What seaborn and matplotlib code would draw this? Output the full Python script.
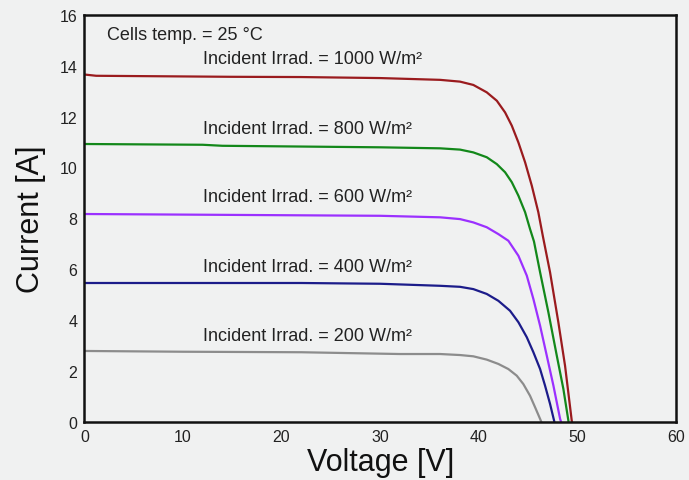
import numpy as np
import pandas as pd
import matplotlib
matplotlib.use("Agg")
import matplotlib.pyplot as plt
import seaborn as sns
from matplotlib.ticker import MultipleLocator

# ---- data ----
v_1000 = [0, 1.2, 14.8, 22, 30.0, 36.08, 38.10, 39.45, 40.81, 41.83, 42.67, 43.35, 44.02, 44.70,
          45.38, 46.04, 46.5, 47.23, 48.07, 48.75, 49.43, 49.45]
i_1000 = [13.65, 13.6, 13.56, 13.55, 13.51, 13.44, 13.37, 13.24, 12.95, 12.62, 12.16, 11.64, 10.98, 10.20,
          9.28, 8.24, 7.3, 5.88, 3.92, 2.21, 0.05, 0.0]

v_800 = [0, 12, 14, 30.0, 36.08, 38.10, 39.45, 40.81, 41.83, 42.67, 43.35, 44.02, 44.70, 45.20,
         45.6, 46.22, 47.06, 47.91, 48.58, 49.09, 49.1]
i_800 = [10.92, 10.89, 10.85, 10.79, 10.75, 10.70, 10.59, 10.40, 10.13, 9.81, 9.42, 8.89, 8.24, 7.58,
         7.09, 5.88, 4.31, 2.61, 1.30, 0.05, 0.0]

v_600 = [0, 30.0, 36.08, 38.10, 39.45, 40.81, 41.99, 43.0, 44.02, 44.87, 45.54, 46.22, 46.90,
         47.57, 48.25, 48.35]
i_600 = [8.17, 8.10, 8.04, 7.97, 7.84, 7.65, 7.38, 7.12, 6.53, 5.75, 4.83, 3.78, 2.60,
         1.43, 0.12, 0.0]

v_400 = [0, 22, 30, 36.08, 38.10, 39.45, 40.81, 41.99, 43.17, 44.02, 44.87, 45.54, 46.22, 46.72,
         47.23, 47.64, 47.67]
i_400 = [5.46, 5.46, 5.43, 5.35, 5.31, 5.22, 5.03, 4.76, 4.37, 3.92, 3.33, 2.74, 2.08, 1.43,
         0.71, 0.05, 0.0]

v_200 = [0, 10, 22, 32, 36.08, 38.10, 39.45, 40.81, 41.99, 43.00, 43.85, 44.52, 45.20, 45.71,
         46.22, 46.35]
i_200 = [2.79, 2.76, 2.74, 2.67, 2.67, 2.63, 2.58, 2.45, 2.28, 2.08, 1.82, 1.49, 1.03, 0.58,
         0.12, 0.0]

irradiances = ["1000", "800", "600", "400", "200"]
series_v = [v_1000, v_800, v_600, v_400, v_200]
series_i = [i_1000, i_800, i_600, i_400, i_200]
colors = ["#9a1b1e", "#13881a", "#9b30ff", "#1c1c8a", "#8c8c8c"]
label_y = [14.26, 11.51, 8.84, 6.09, 3.38]
label_x = 12.0
temp_text = "Cells temp. = 25 °C"

frames = []
for name, v, i in zip(irradiances, series_v, series_i):
    frames.append(pd.DataFrame({"Voltage": v, "Current": i, "Irr": name}))
df = pd.concat(frames, ignore_index=True)

bg = "#f0f1f1"
sns.set_theme(style="white")
plt.rcParams["font.family"] = ["Liberation Sans", "DejaVu Sans"]

fig = plt.figure(figsize=(6.89, 4.81), dpi=100, facecolor=bg)
ax = fig.add_axes([0.1224, 0.1206, 0.8587, 0.8468])
ax.set_facecolor(bg)

sns.lineplot(data=df, x="Voltage", y="Current", hue="Irr", hue_order=irradiances,
             palette=dict(zip(irradiances, colors)), estimator=None, sort=False,
             linewidth=1.6, legend=False, ax=ax)

ax.set_xlim(0, 60)
ax.set_ylim(0, 16)
ax.xaxis.set_major_locator(MultipleLocator(10))
ax.xaxis.set_minor_locator(MultipleLocator(5))
ax.yaxis.set_major_locator(MultipleLocator(2))
ax.yaxis.set_minor_locator(MultipleLocator(1))
ax.tick_params(which="both", direction="in", color="#111111", width=1.2,
               top=False, right=False)
ax.tick_params(which="major", length=6.5, labelsize=11.5, labelcolor="#222222", pad=5)
ax.tick_params(which="minor", length=3.5)
for s in ax.spines.values():
    s.set_color("#111111")
    s.set_linewidth(1.8)

ax.set_xlabel("Voltage [V]", fontsize=22, color="#111111", labelpad=2)
ax.set_ylabel("Current [A]", fontsize=22, color="#111111", labelpad=10)

ax.text(2.3, 15.24, temp_text, fontsize=13, color="#222222", va="center", ha="left")
for name, y in zip(irradiances, label_y):
    ax.text(label_x, y, f"Incident Irrad. = {name} W/m²", fontsize=13, color="#222222",
            va="center", ha="left")

fig.savefig("out.png", dpi=100, facecolor=bg)
